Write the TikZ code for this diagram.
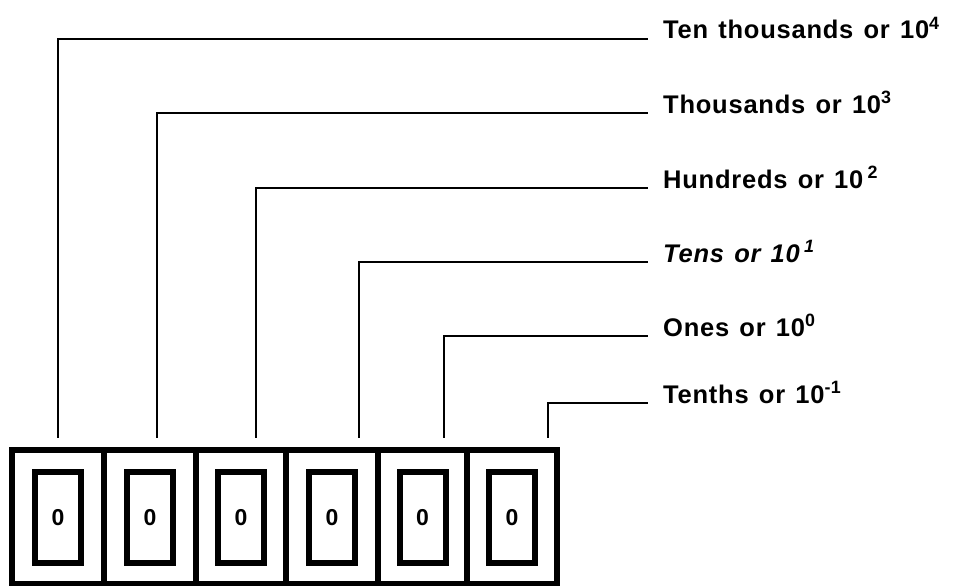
\documentclass[tikz,border=0pt]{standalone}
\usepackage{fontspec}
\setmainfont{Liberation Sans}
\newfontfamily\labfont[LetterSpace=3,WordSpace=1.3]{Liberation Sans}
\begin{document}
\begin{tikzpicture}[x=1pt,y=-1pt,
  leader/.style={line width=1.7pt, line cap=rect},
  lab/.style={anchor=base west, inner sep=0pt, font=\labfont\fontsize{25.5}{28}\selectfont\bfseries},
  frame/.style={line width=6pt},
  digitbox/.style={draw, line width=6pt, minimum width=46pt, minimum height=91pt, inner sep=0pt, font=\fontsize{23}{26}\selectfont\bfseries}]
\useasboundingbox (0,0) rectangle (961,586);
% outer frame and cell dividers
\draw[frame] (12,450) rectangle (557,584);
\foreach \x in {104,196,286,378,467} \draw[frame] (\x,450) -- (\x,584);
% inner digit boxes
\node[digitbox] (d1) at (58,517.5) {0};
\node[digitbox] (d2) at (150,517.5) {0};
\node[digitbox] (d3) at (241,517.5) {0};
\node[digitbox] (d4) at (332,517.5) {0};
\node[digitbox] (d5) at (422.5,517.5) {0};
\node[digitbox] (d6) at (512,517.5) {0};
% labels
\node[lab] (L1) at (663,39) {Ten thousands or 10\textsuperscript{4}};
\node[lab] (L2) at (663,113) {Thousands or 10\textsuperscript{3}};
\node[lab] (L3) at (663,188) {Hundreds or 10\,\textsuperscript{2}};
\node[lab] (L4) at (663,262) {\itshape Tens or 10\,\textsuperscript{1}};
\node[lab] (L5) at (663,336) {Ones or 10\textsuperscript{0}};
\node[lab] (L6) at (663,403) {Tenths or 10\textsuperscript{-1}};
% leader foot points
\coordinate (f1) at (58,437);
\coordinate (f2) at (157,437);
\coordinate (f3) at (256,437);
\coordinate (f4) at (359,437);
\coordinate (f5) at (444,437);
\coordinate (f6) at (548,437);
\foreach \i in {1,...,6}
  \draw[leader] (f\i) |- ([xshift=-16pt]L\i.base west);
\end{tikzpicture}
\end{document}
